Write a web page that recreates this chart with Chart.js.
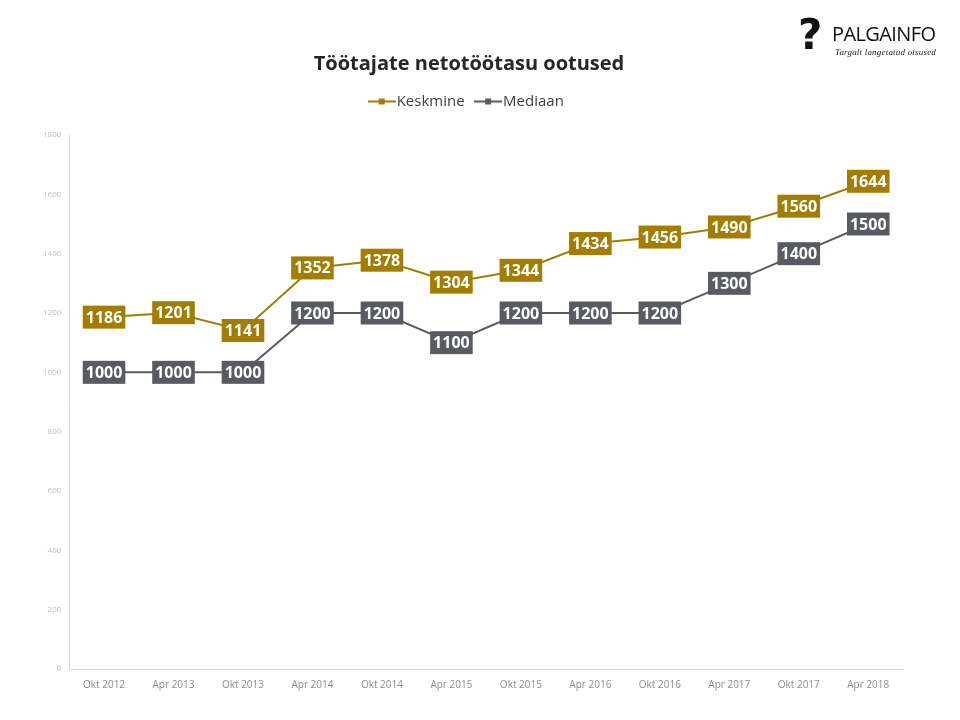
<!DOCTYPE html>
<html>
<head>
<meta charset="utf-8">
<script src="https://cdn.jsdelivr.net/npm/chart.js@4.4.1/dist/chart.umd.min.js"></script>
<style>
  html, body { margin: 0; padding: 0; background: #fff; }
  #wrap { position: relative; width: 960px; height: 720px; }
  #logo { position: absolute; left: 798px; top: 16px; font-family: "Open Sans", sans-serif; }
  #logo .q { position: absolute; left: 0; top: -6px; font-size: 42px; font-weight: 900; color: #111; font-family: "DejaVu Sans", sans-serif; }
  #logo .name { position: absolute; left: 34px; top: 4px; font-size: 20px; color: #111; letter-spacing: -0.6px; }
  #logo .tag { position: absolute; left: 37px; top: 31px; font-size: 9px; font-style: italic; color: #222; white-space: nowrap; font-family: "Liberation Serif", serif; letter-spacing: 0.2px; }
</style>
</head>
<body>
<div id="wrap">
  <canvas id="chart" width="960" height="720"></canvas>
  <div id="logo">
    <span class="q">?</span>
    <span class="name">PALGAINFO</span>
    <span class="tag">Targalt langetatud otsused</span>
  </div>
</div>
<script>
    const categories = ['Okt 2012', 'Apr 2013', 'Okt 2013', 'Apr 2014', 'Okt 2014', 'Apr 2015',
        'Okt 2015', 'Apr 2016', 'Okt 2016', 'Apr 2017', 'Okt 2017', 'Apr 2018'];
    const keskmine = [1186, 1201, 1141, 1352, 1378, 1304, 1344, 1434, 1456, 1490, 1560, 1644];
    const mediaan = [1000, 1000, 1000, 1200, 1200, 1100, 1200, 1200, 1200, 1300, 1400, 1500];

    const gold = '#a27d00';
    const grey = '#595b62';

    function legendMarker(color) {
        const c = document.createElement('canvas');
        c.width = 28;
        c.height = 10;
        const g = c.getContext('2d');
        g.strokeStyle = color;
        g.lineWidth = 2;
        g.beginPath();
        g.moveTo(0, 5);
        g.lineTo(28, 5);
        g.stroke();
        g.fillStyle = color;
        g.fillRect(11, 2, 6, 6);
        return c;
    }

    // extra room under the legend
    const legendGap = {
        id: 'legendGap',
        beforeInit: function (chart) {
            const fit = chart.legend.fit;
            chart.legend.fit = function () {
                fit.bind(chart.legend)();
                this.height += 16;
            };
        }
    };

    // draws the value boxes centred on each point
    const valueBoxes = {
        id: 'valueBoxes',
        afterDatasetsDraw: function (chart) {
            const ctx = chart.ctx;
            ctx.save();
            ctx.font = 'bold 16px "Open Sans", sans-serif';
            ctx.textAlign = 'center';
            ctx.textBaseline = 'middle';
            chart.data.datasets.forEach(function (ds, i) {
                const meta = chart.getDatasetMeta(i);
                meta.data.forEach(function (pt, j) {
                    const txt = String(ds.data[j]);
                    const w = ctx.measureText(txt).width + 6;
                    const h = 23;
                    ctx.fillStyle = ds.borderColor;
                    ctx.fillRect(pt.x - w / 2, pt.y - h / 2, w, h);
                    ctx.fillStyle = '#fff';
                    ctx.fillText(txt, pt.x, pt.y + 1);
                });
            });
            ctx.restore();
        }
    };

    new Chart(document.getElementById('chart'), {
        type: 'line',
        data: {
            labels: categories,
            datasets: [{
                label: 'Keskmine',
                data: keskmine,
                borderColor: gold,
                backgroundColor: gold,
                borderWidth: 2,
                pointRadius: 0,
                tension: 0
            }, {
                label: 'Mediaan',
                data: mediaan,
                borderColor: grey,
                backgroundColor: grey,
                borderWidth: 2,
                pointRadius: 0,
                tension: 0
            }]
        },
        options: {
            responsive: false,
            animation: false,
            layout: {
                padding: { top: 52, left: 35, right: 57, bottom: 19 }
            },
            plugins: {
                title: {
                    display: true,
                    text: 'Töötajate netotöötasu ootused',
                    color: '#262626',
                    font: { family: '"Open Sans", sans-serif', size: 20, weight: 'bold' },
                    padding: { top: 0, bottom: 2 }
                },
                legend: {
                    display: true,
                    position: 'top',
                    labels: {
                        usePointStyle: true,
                        color: '#404040',
                        boxHeight: 10,
                        font: { family: '"Open Sans", sans-serif', size: 15 },
                        padding: 16,
                        generateLabels: function (chart) {
                            return chart.data.datasets.map(function (ds, i) {
                                return {
                                    text: ds.label,
                                    fontColor: '#404040',
                                    pointStyle: legendMarker(ds.borderColor),
                                    datasetIndex: i,
                                    lineWidth: 0
                                };
                            });
                        }
                    }
                },
                tooltip: { enabled: false }
            },
            scales: {
                x: {
                    offset: true,
                    grid: { display: false, drawTicks: false },
                    border: { color: '#d9d9d9', width: 1 },
                    ticks: {
                        color: '#8c8c8c',
                        padding: 10,
                        maxRotation: 0,
                        font: { family: '"Open Sans", sans-serif', size: 10 }
                    }
                },
                y: {
                    min: 0,
                    max: 1800,
                    grid: { display: false, drawTicks: false },
                    border: { color: '#d9d9d9', width: 1 },
                    ticks: {
                        stepSize: 200,
                        color: '#bfbfbf',
                        padding: 8,
                        font: { family: '"Open Sans", sans-serif', size: 8 },
                        callback: function (v) { return String(v); }
                    }
                }
            }
        },
        plugins: [legendGap, valueBoxes]
    });
</script>
</body>
</html>
